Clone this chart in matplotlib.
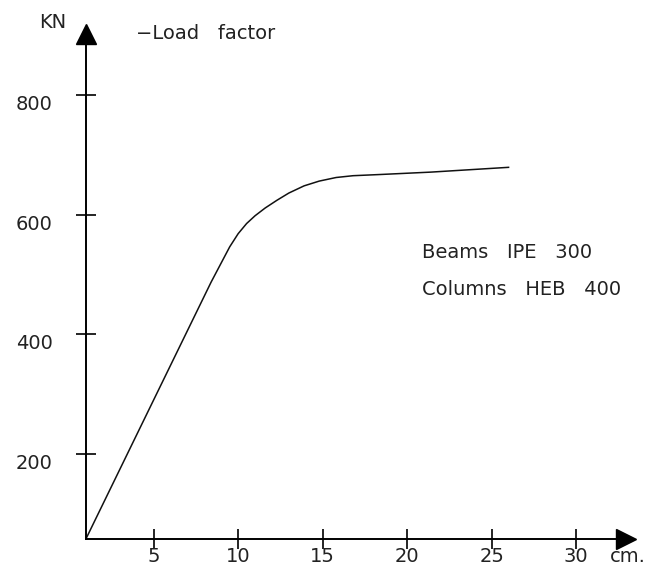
import numpy as np
import matplotlib
matplotlib.use("Agg")
import matplotlib.pyplot as plt

# displacement (cm) vs load (KN)
disp = [1, 5, 8.4, 9.5, 10.0, 10.5, 11.0, 11.6, 12.3, 13.0, 13.9, 14.8, 15.8, 16.8, 18.4, 21.4, 26]
load = [58, 290, 487, 546, 568, 585, 598, 611, 624, 636, 648, 656, 662, 665, 667, 671, 679]

xticks = [5, 10, 15, 20, 25, 30]
yticks = [200, 400, 600, 800]

plt.rcParams['font.family'] = ['DejaVu Sans']

fig = plt.figure(figsize=(6.49, 5.67), dpi=100)
ax = fig.add_axes([0, 0, 1, 1])
ax.set_xlim(-4.09, 34.31)
ax.set_ylim(10.7, 958.8)

# axes drawn as spines through the origin of the drawing (1 cm, 58 KN)
ax.spines['left'].set_position(('data', 1))
ax.spines['bottom'].set_position(('data', 58))
ax.spines['left'].set_bounds(58, 890)
ax.spines['bottom'].set_bounds(1, 32.4)
for s in ['top', 'right']:
    ax.spines[s].set_visible(False)
for s in ['left', 'bottom']:
    ax.spines[s].set_linewidth(1.4)
    ax.spines[s].set_color('black')

ax.set_xticks(xticks)
ax.set_yticks(yticks)
ax.set_xticklabels([str(t) for t in xticks])
ax.set_yticklabels([str(t) for t in yticks])
ax.tick_params(axis='both', direction='inout', length=14, width=1.2,
               labelsize=14, colors='black', labelcolor='#222222')
ax.tick_params(axis='x', pad=-1)
ax.tick_params(axis='y', pad=17)
for lab in ax.get_yticklabels():
    lab.set_verticalalignment('top')

# arrow heads
ax.plot(1, 902, marker='^', markersize=14, color='black', clip_on=False)
ax.plot(32.95, 58, marker='>', markersize=14, color='black', clip_on=False)

ax.plot(disp, load, color='#111111', linewidth=1.1)

ax.text(-1.0, 922, 'KN', fontsize=14, ha='center', va='center', color='#222222')
ax.text(3.95, 903, '\u2212Load   factor', fontsize=14, ha='left', va='center', color='#222222')
ax.text(20.9, 536, 'Beams   IPE   300', fontsize=14, ha='left', va='center', color='#222222')
ax.text(20.9, 474, 'Columns   HEB   400', fontsize=14, ha='left', va='center', color='#222222')
ax.text(32.0, 28, 'cm.', fontsize=14, ha='left', va='center', color='#222222')

fig.savefig('out.png', dpi=100)
